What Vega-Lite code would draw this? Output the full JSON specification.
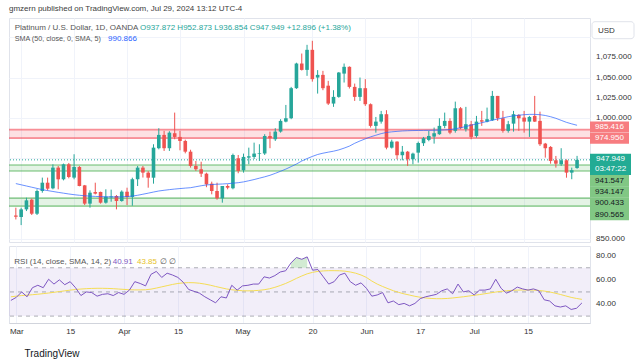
{
  "$schema": "https://vega.github.io/schema/vega-lite/v6.json",
  "background": "#ffffff",
  "padding": {"left": 7, "top": 4, "right": 0, "bottom": 0},
  "title": {"text": "gmzern published on TradingView.com, Jul 29, 2024 13:12 UTC-4", "anchor": "start", "frame": "group", "fontSize": 8, "fontWeight": "normal", "color": "#3b3b3b", "font": "Liberation Sans", "offset": 5},
  "config": {
    "font": "Liberation Sans",
    "view": {"stroke": "#e0e3eb", "strokeWidth": 1},
    "axis": {"labelFont": "Liberation Sans", "labelFontSize": 8, "labelColor": "#333333", "ticks": false, "domain": false, "gridColor": "#f0f3fa", "gridWidth": 1}
  },
  "spacing": 1,
  "datasets": {
    "bars": [
      {"i":0,"o":879,"h":888.6,"l":874,"c":877.4,"sma":918.5,"rsi":43,"ma":46},
      {"i":1,"o":877,"h":888.6,"l":867,"c":886.5,"sma":917,"rsi":45.5,"ma":46.5},
      {"i":2,"o":886.5,"h":901,"l":884.4,"c":897.7,"sma":915.5,"rsi":50,"ma":47},
      {"i":3,"o":898.5,"h":899.8,"l":879.5,"c":881.1,"sma":914,"rsi":46,"ma":47.3},
      {"i":4,"o":881.1,"h":911.4,"l":879.5,"c":909.3,"sma":912.5,"rsi":53.5,"ma":47.7},
      {"i":5,"o":909.3,"h":925.9,"l":907.2,"c":919.6,"sma":911,"rsi":55.5,"ma":48.1},
      {"i":6,"o":919.6,"h":925.9,"l":910,"c":912.2,"sma":909.8,"rsi":53.5,"ma":48.6},
      {"i":7,"o":912.6,"h":942.4,"l":911.4,"c":938.3,"sma":908.7,"rsi":60.5,"ma":49.1},
      {"i":8,"o":938.3,"h":940.4,"l":911.4,"c":923.8,"sma":907.6,"rsi":56.5,"ma":49.7},
      {"i":9,"o":923.8,"h":943.3,"l":922.5,"c":942.4,"sma":906.6,"rsi":60,"ma":50.3},
      {"i":10,"o":942.4,"h":944.1,"l":925,"c":926.7,"sma":905.6,"rsi":56,"ma":50.9},
      {"i":11,"o":925.9,"h":954.9,"l":923.8,"c":939.1,"sma":904.7,"rsi":58.5,"ma":51.5},
      {"i":12,"o":939.1,"h":940.4,"l":915.1,"c":915.5,"sma":904,"rsi":53.5,"ma":52},
      {"i":13,"o":916.3,"h":916.8,"l":891.9,"c":893.6,"sma":903.4,"rsi":47,"ma":52.4},
      {"i":14,"o":893.6,"h":910.1,"l":888.6,"c":907.2,"sma":902.9,"rsi":50,"ma":52.7},
      {"i":15,"o":908,"h":919.6,"l":905,"c":906,"sma":902.6,"rsi":49.5,"ma":52.9},
      {"i":16,"o":908.1,"h":908.5,"l":893.6,"c":894.8,"sma":902.3,"rsi":46.5,"ma":53},
      {"i":17,"o":894.8,"h":911.4,"l":893.6,"c":902.3,"sma":902.1,"rsi":48,"ma":53},
      {"i":18,"o":901.5,"h":911,"l":896,"c":902.5,"sma":902,"rsi":48.5,"ma":52.9},
      {"i":19,"o":903.1,"h":904.3,"l":886.5,"c":896.9,"sma":902,"rsi":47,"ma":52.7},
      {"i":20,"o":896.9,"h":910.1,"l":896,"c":908.5,"sma":902.1,"rsi":49.5,"ma":52.4},
      {"i":21,"o":908.4,"h":913.4,"l":891.9,"c":901.9,"sma":902.4,"rsi":48,"ma":52.1},
      {"i":22,"o":901.9,"h":925.8,"l":891,"c":923.9,"sma":903,"rsi":51.5,"ma":51.8},
      {"i":23,"o":923.9,"h":940.4,"l":915.5,"c":938.3,"sma":904,"rsi":58.5,"ma":51.7},
      {"i":24,"o":938.3,"h":940.4,"l":926,"c":932.1,"sma":905.3,"rsi":57,"ma":51.7},
      {"i":25,"o":932.1,"h":934,"l":913.4,"c":925.8,"sma":906.6,"rsi":55,"ma":51.8},
      {"i":26,"o":925.8,"h":967.3,"l":918.4,"c":963.1,"sma":908,"rsi":64.5,"ma":52.3},
      {"i":27,"o":962.4,"h":987.2,"l":961,"c":978.9,"sma":909.3,"rsi":67,"ma":53.2},
      {"i":28,"o":978.9,"h":983.9,"l":959,"c":962.4,"sma":910.2,"rsi":62,"ma":54.2},
      {"i":29,"o":962.4,"h":983.5,"l":959,"c":981.7,"sma":911,"rsi":65.5,"ma":55.2},
      {"i":30,"o":981,"h":1006.6,"l":973.5,"c":976.4,"sma":911.7,"rsi":64,"ma":56.2},
      {"i":31,"o":976.4,"h":983.9,"l":959.8,"c":971.4,"sma":912.3,"rsi":62,"ma":57},
      {"i":32,"o":971.4,"h":973,"l":956,"c":958.1,"sma":912.9,"rsi":58,"ma":57.5},
      {"i":33,"o":958.1,"h":960.5,"l":938.3,"c":940.4,"sma":913.4,"rsi":52,"ma":57.7},
      {"i":34,"o":940.4,"h":946.5,"l":934.2,"c":936.3,"sma":914.6,"rsi":50.5,"ma":57.6},
      {"i":35,"o":936.3,"h":945.6,"l":926.7,"c":930.8,"sma":915.8,"rsi":49,"ma":57.2},
      {"i":36,"o":930.8,"h":932,"l":914,"c":917.6,"sma":916.8,"rsi":46,"ma":56.5},
      {"i":37,"o":918.4,"h":920.9,"l":905.2,"c":909.3,"sma":917.3,"rsi":43.5,"ma":55.6},
      {"i":38,"o":909.3,"h":919.6,"l":898.5,"c":900.2,"sma":917.7,"rsi":41,"ma":54.5},
      {"i":39,"o":900.2,"h":915.5,"l":894.8,"c":915.5,"sma":918,"rsi":46,"ma":53.5},
      {"i":40,"o":915.5,"h":917.6,"l":911.4,"c":913.4,"sma":918.4,"rsi":45,"ma":52.5},
      {"i":41,"o":912.7,"h":955.7,"l":911.4,"c":954,"sma":919,"rsi":55.5,"ma":51.8},
      {"i":42,"o":949.9,"h":954,"l":931.3,"c":934.2,"sma":919.6,"rsi":51.5,"ma":51.3},
      {"i":43,"o":935,"h":955.7,"l":932.1,"c":951.6,"sma":920.6,"rsi":55,"ma":51},
      {"i":44,"o":950.7,"h":963.1,"l":942.5,"c":952.4,"sma":922,"rsi":55.5,"ma":50.9},
      {"i":45,"o":951.6,"h":969.3,"l":949,"c":955.7,"sma":923.5,"rsi":56.5,"ma":51},
      {"i":46,"o":955.3,"h":967.3,"l":946.6,"c":956.1,"sma":925.2,"rsi":56.5,"ma":51.3},
      {"i":47,"o":955.7,"h":979.8,"l":954,"c":977.6,"sma":926.9,"rsi":62.5,"ma":51.8},
      {"i":48,"o":977.6,"h":983,"l":962.4,"c":974.8,"sma":928.8,"rsi":61.5,"ma":52.6},
      {"i":49,"o":973.5,"h":987.2,"l":971.4,"c":983,"sma":931.2,"rsi":63.5,"ma":53.8},
      {"i":50,"o":983,"h":998.4,"l":981.7,"c":996.3,"sma":933.8,"rsi":66.5,"ma":55.3},
      {"i":51,"o":995.4,"h":1016.1,"l":994.5,"c":999.6,"sma":936.5,"rsi":67.5,"ma":57},
      {"i":52,"o":999.6,"h":1038.5,"l":998.4,"c":1036.9,"sma":939.6,"rsi":74,"ma":59},
      {"i":53,"o":1036.9,"h":1068.5,"l":1036,"c":1067.5,"sma":942.8,"rsi":78.5,"ma":61.2},
      {"i":54,"o":1067.5,"h":1079.9,"l":1058.8,"c":1059.6,"sma":946.5,"rsi":77,"ma":63.2},
      {"i":55,"o":1059.6,"h":1090.7,"l":1052.2,"c":1084.5,"sma":949.5,"rsi":79,"ma":65},
      {"i":56,"o":1084.5,"h":1095.7,"l":1045,"c":1048.1,"sma":952.2,"rsi":68,"ma":66.2},
      {"i":57,"o":1050.1,"h":1059.3,"l":1030.2,"c":1053.4,"sma":954.6,"rsi":68.5,"ma":67},
      {"i":58,"o":1053.4,"h":1058.4,"l":1034.4,"c":1036.9,"sma":956.2,"rsi":62.5,"ma":67.4},
      {"i":59,"o":1040,"h":1046,"l":1016,"c":1017.8,"sma":957.5,"rsi":56.5,"ma":67.6},
      {"i":60,"o":1017.8,"h":1034.4,"l":1013.7,"c":1026.1,"sma":958.7,"rsi":58.5,"ma":67.6},
      {"i":61,"o":1026.1,"h":1057,"l":1025,"c":1056.3,"sma":960.3,"rsi":64,"ma":67.5},
      {"i":62,"o":1055,"h":1067.5,"l":1043.9,"c":1063.4,"sma":962.5,"rsi":65.5,"ma":67.2},
      {"i":63,"o":1063.4,"h":1064,"l":1036.5,"c":1038.5,"sma":965,"rsi":58.5,"ma":66.5},
      {"i":64,"o":1038.5,"h":1042.6,"l":1021.1,"c":1026.1,"sma":968.5,"rsi":55.5,"ma":65.5},
      {"i":65,"o":1026.1,"h":1050.1,"l":1021.1,"c":1036.9,"sma":971.4,"rsi":57.5,"ma":64},
      {"i":66,"o":1036.9,"h":1048.1,"l":1014.9,"c":1017,"sma":974,"rsi":53,"ma":62},
      {"i":67,"o":1017,"h":1018,"l":988,"c":990.1,"sma":976.5,"rsi":46.5,"ma":59},
      {"i":68,"o":990.1,"h":1001.2,"l":981.7,"c":995.4,"sma":978.5,"rsi":47.5,"ma":56.5},
      {"i":69,"o":995.4,"h":1008.7,"l":992.9,"c":1004.6,"sma":980.5,"rsi":49.5,"ma":54.5},
      {"i":70,"o":1004.6,"h":1009.6,"l":961,"c":963.1,"sma":982,"rsi":41,"ma":52.7},
      {"i":71,"o":963.1,"h":973,"l":962,"c":970.6,"sma":982.7,"rsi":42.5,"ma":51},
      {"i":72,"o":970.6,"h":971,"l":948.7,"c":953.7,"sma":983.3,"rsi":39.5,"ma":49.6},
      {"i":73,"o":953.7,"h":965.2,"l":947.4,"c":958.1,"sma":983.8,"rsi":40.5,"ma":48.4},
      {"i":74,"o":958.1,"h":959,"l":940.4,"c":948.7,"sma":984.1,"rsi":38.5,"ma":47.4},
      {"i":75,"o":948.7,"h":956.9,"l":942.5,"c":955.7,"sma":984.3,"rsi":40.5,"ma":46.4},
      {"i":76,"o":956.9,"h":970.6,"l":944.5,"c":968.9,"sma":984.4,"rsi":44.5,"ma":45.6},
      {"i":77,"o":968.6,"h":976.4,"l":965.2,"c":974.8,"sma":984.5,"rsi":46,"ma":45},
      {"i":78,"o":972.7,"h":983.9,"l":971,"c":977.6,"sma":984.6,"rsi":47,"ma":44.6},
      {"i":79,"o":976.8,"h":988,"l":968.1,"c":981,"sma":984.7,"rsi":48,"ma":44.4},
      {"i":80,"o":979.8,"h":999.6,"l":979,"c":990.1,"sma":984.9,"rsi":51,"ma":44.4},
      {"i":81,"o":990.1,"h":1006.6,"l":987.2,"c":996.3,"sma":985.1,"rsi":52.5,"ma":44.6},
      {"i":82,"o":996.3,"h":999.6,"l":979.8,"c":981.7,"sma":985.5,"rsi":48.5,"ma":45},
      {"i":83,"o":983.9,"h":1020.2,"l":981.7,"c":1012,"sma":986.5,"rsi":56.5,"ma":45.5},
      {"i":84,"o":1012,"h":1013.5,"l":986,"c":987.2,"sma":987.8,"rsi":50,"ma":46},
      {"i":85,"o":986,"h":1013.7,"l":983,"c":992.2,"sma":989.3,"rsi":51,"ma":46.6},
      {"i":86,"o":992.2,"h":996.3,"l":973.5,"c":976.4,"sma":991,"rsi":47.5,"ma":47.2},
      {"i":87,"o":977.6,"h":1002.5,"l":975.5,"c":995.4,"sma":992.5,"rsi":51.5,"ma":47.8},
      {"i":88,"o":997.1,"h":1008.7,"l":990.1,"c":995.4,"sma":994,"rsi":51.5,"ma":48.5},
      {"i":89,"o":995.4,"h":1012.8,"l":994.5,"c":998.4,"sma":995.6,"rsi":52.5,"ma":49.2},
      {"i":90,"o":997.1,"h":1033.5,"l":996.3,"c":1027.3,"sma":997.2,"rsi":60.5,"ma":49.9},
      {"i":91,"o":1027.3,"h":1027.3,"l":996.3,"c":999.6,"sma":998.6,"rsi":53,"ma":50.5},
      {"i":92,"o":999.6,"h":1008.7,"l":981.7,"c":983.9,"sma":1000,"rsi":49,"ma":51},
      {"i":93,"o":983.9,"h":996.3,"l":981.7,"c":992.2,"sma":1001.5,"rsi":51,"ma":51.3},
      {"i":94,"o":992.9,"h":1008.7,"l":983,"c":1004.6,"sma":1002.6,"rsi":54,"ma":51.5},
      {"i":95,"o":1003.7,"h":1004.6,"l":983.9,"c":999.6,"sma":1003.4,"rsi":52.5,"ma":51.6},
      {"i":96,"o":1000.4,"h":1008.7,"l":981.7,"c":995.4,"sma":1004,"rsi":51.5,"ma":51.6},
      {"i":97,"o":995.4,"h":1002.5,"l":976.4,"c":1001.2,"sma":1004.4,"rsi":52.5,"ma":51.5},
      {"i":98,"o":1002.5,"h":1027.3,"l":995,"c":995.4,"sma":1004.4,"rsi":51,"ma":51.2},
      {"i":99,"o":996.3,"h":1007.8,"l":965.2,"c":967.3,"sma":1004,"rsi":43.5,"ma":50.7},
      {"i":100,"o":968.1,"h":969,"l":950.7,"c":962.4,"sma":1003,"rsi":42.5,"ma":50},
      {"i":101,"o":964,"h":965,"l":943.2,"c":946.6,"sma":1001.5,"rsi":38.5,"ma":49},
      {"i":102,"o":947.4,"h":952.8,"l":938.3,"c":943.2,"sma":999.5,"rsi":37.5,"ma":47.9},
      {"i":103,"o":942.5,"h":962.4,"l":940.4,"c":947.4,"sma":997,"rsi":38.5,"ma":46.7},
      {"i":104,"o":947.4,"h":948.5,"l":925.8,"c":932.1,"sma":994.5,"rsi":35.5,"ma":45.5},
      {"i":105,"o":932.1,"h":938.3,"l":923.9,"c":935.05,"sma":992.6,"rsi":36.5,"ma":44.6},
      {"i":106,"o":937.872,"h":952.873,"l":936.854,"c":947.949,"sma":990.866,"rsi":40.91,"ma":43.85}
    ],
    "zones": [
      {"lo": 974.95, "hi": 985.416, "kind": "res"},
      {"lo": 934.147, "hi": 941.547, "kind": "sup"},
      {"lo": 890.565, "hi": 900.433, "kind": "sup"}
    ],
    "tags": [
      {"label": "985.416", "price": 985.416, "kind": "res"},
      {"label": "974.950", "price": 974.95, "kind": "res"},
      {"label": "941.547", "price": 941.547, "kind": "sup"},
      {"label": "934.147", "price": 934.147, "kind": "sup"},
      {"label": "900.433", "price": 900.433, "kind": "sup"},
      {"label": "890.565", "price": 890.565, "kind": "sup"}
    ],
    "last": [
      {"label": "947.949", "price": 947.949, "timer": "03:47:22"}
    ],
    "priceTicks": [{"v": 850}, {"v": 1000}, {"v": 1025}, {"v": 1050}, {"v": 1075}],
    "rsiTicks": [{"v": 40}, {"v": 60}, {"v": 80}]
  },
  "vconcat": [
    {
      "width": 581,
      "height": 224,
      "layer": [
        {
          "data": {"name": "zones"},
          "mark": {"type": "rect", "opacity": 0.15},
          "encoding": {
            "y": {"field": "lo", "type": "quantitative", "scale": {"domain": [846, 1124], "nice": false, "zero": false},
              "axis": {"orient": "right", "title": null, "values": [850, 875, 900, 925, 950, 975, 1000, 1025, 1050, 1075, 1100], "labels": false, "grid": true}},
            "y2": {"field": "hi"},
            "color": {"condition": {"test": "datum.kind == 'res'", "value": "#f23645"}, "value": "#4caf50"}
          }
        },
        {
          "data": {"name": "zones"},
          "mark": {"type": "rule", "strokeWidth": 1.6, "opacity": 0.55},
          "encoding": {
            "y": {"field": "lo", "type": "quantitative"},
            "color": {"condition": {"test": "datum.kind == 'res'", "value": "#f23645"}, "value": "#4caf50"}
          }
        },
        {
          "data": {"name": "zones"},
          "mark": {"type": "rule", "strokeWidth": 1.6, "opacity": 0.55},
          "encoding": {
            "y": {"field": "hi", "type": "quantitative"},
            "color": {"condition": {"test": "datum.kind == 'res'", "value": "#f23645"}, "value": "#4caf50"}
          }
        },
        {
          "data": {"name": "last"},
          "mark": {"type": "rule", "strokeWidth": 1, "strokeDash": [1, 2], "color": "#26a69a"},
          "encoding": {"y": {"field": "price", "type": "quantitative"}}
        },
        {
          "data": {"name": "bars"},
          "mark": {"type": "rule", "strokeWidth": 1},
          "encoding": {
            "x": {"field": "i", "type": "quantitative", "scale": {"domain": [-0.35, 107.5], "nice": false, "zero": false},
              "axis": {"title": null, "labels": false, "grid": true, "values": [1, 11, 21, 31, 43, 56, 66, 76, 86, 96]}},
            "y": {"field": "l", "type": "quantitative"},
            "y2": {"field": "h"},
            "color": {"condition": {"test": "datum.c >= datum.o", "value": "#26a69a"}, "value": "#ef5350"}
          }
        },
        {
          "data": {"name": "bars"},
          "mark": {"type": "bar", "width": 3.6, "minBandSize": 1},
          "encoding": {
            "x": {"field": "i", "type": "quantitative"},
            "y": {"field": "o", "type": "quantitative"},
            "y2": {"field": "c"},
            "color": {"condition": {"test": "datum.c >= datum.o", "value": "#26a69a"}, "value": "#ef5350"}
          }
        },
        {
          "data": {"name": "bars"},
          "mark": {"type": "line", "strokeWidth": 1, "color": "#2962ff", "opacity": 0.7},
          "encoding": {
            "x": {"field": "i", "type": "quantitative"},
            "y": {"field": "sma", "type": "quantitative"}
          }
        },
        {
          "data": {"name": "priceTicks"},
          "mark": {"type": "text", "align": "left", "baseline": "middle", "fontSize": 8, "color": "#333333", "xOffset": 6},
          "encoding": {
            "y": {"field": "v", "type": "quantitative"},
            "x": {"value": "width"},
            "text": {"field": "v", "type": "quantitative", "format": ",.3f"}
          }
        },
        {
          "data": {"values": [{}]},
          "mark": {"type": "text", "align": "left", "baseline": "middle", "fontSize": 8, "color": "#555555", "x": 5.7, "y": 10},
          "encoding": {"text": {"value": "Platinum / U.S. Dollar, 1D, OANDA"}}
        },
        {
          "data": {"values": [{}]},
          "mark": {"type": "text", "align": "left", "baseline": "middle", "fontSize": 8, "color": "#26a69a", "x": 131, "y": 10},
          "encoding": {"text": {"value": "O937.872  H952.873  L936.854  C947.949  +12.896 (+1.38%)"}}
        },
        {
          "data": {"values": [{}]},
          "mark": {"type": "text", "align": "left", "baseline": "middle", "fontSize": 7.2, "color": "#555555", "x": 5.7, "y": 21},
          "encoding": {"text": {"value": "SMA (50, close, 0, SMA, 5)"}}
        },
        {
          "data": {"values": [{}]},
          "mark": {"type": "text", "align": "left", "baseline": "middle", "fontSize": 8, "color": "#2962ff", "x": 99, "y": 21},
          "encoding": {"text": {"value": "990.866"}}
        },
        {
          "data": {"values": [{}]},
          "mark": {"type": "rect", "fill": "#ffffff", "stroke": "#e0e3eb", "cornerRadius": 3, "x": 583, "x2": 625, "y": 3.7, "y2": 20.7},
          "encoding": {}
        },
        {
          "data": {"values": [{}]},
          "mark": {"type": "text", "align": "left", "baseline": "middle", "fontSize": 8, "color": "#333333", "x": 589, "y": 12.5},
          "encoding": {"text": {"value": "USD"}}
        },
        {
          "data": {"name": "tags"},
          "transform": [{"filter": "datum.label == '985.416'"}],
          "encoding": {"y": {"field": "price", "type": "quantitative"}, "x": {"value": "width"}},
          "layer": [
            {"mark": {"type": "tick", "orient": "vertical", "thickness": 39, "size": 11, "color": "#f77c80", "opacity": 1, "xOffset": 19.5, "yOffset": -2.7}},
            {"mark": {"type": "text", "align": "center", "baseline": "middle", "fontSize": 8, "color": "#ffffff", "xOffset": 19.5, "yOffset": -2.7}, "encoding": {"text": {"field": "label"}}}
          ]
        },
        {
          "data": {"name": "tags"},
          "transform": [{"filter": "datum.label == '974.950'"}],
          "encoding": {"y": {"field": "price", "type": "quantitative"}, "x": {"value": "width"}},
          "layer": [
            {"mark": {"type": "tick", "orient": "vertical", "thickness": 39, "size": 11, "color": "#f77c80", "opacity": 1, "xOffset": 19.5, "yOffset": 0.2}},
            {"mark": {"type": "text", "align": "center", "baseline": "middle", "fontSize": 8, "color": "#ffffff", "xOffset": 19.5, "yOffset": 0.2}, "encoding": {"text": {"field": "label"}}}
          ]
        },
        {
          "data": {"name": "last"},
          "encoding": {"y": {"field": "price", "type": "quantitative"}, "x": {"value": "width"}},
          "layer": [
            {"mark": {"type": "tick", "orient": "vertical", "thickness": 41, "size": 21.3, "color": "#22ab94", "opacity": 1, "xOffset": 20.5, "yOffset": 4.5}},
            {"mark": {"type": "text", "align": "center", "baseline": "middle", "fontSize": 8, "color": "#ffffff", "xOffset": 20.5, "yOffset": -0.6}, "encoding": {"text": {"field": "label"}}},
            {"mark": {"type": "text", "align": "center", "baseline": "middle", "fontSize": 8, "color": "#ffffff", "xOffset": 20.5, "yOffset": 9.4}, "encoding": {"text": {"field": "timer"}}}
          ]
        },
        {
          "data": {"name": "tags"},
          "transform": [{"filter": "datum.label == '941.547'"}],
          "encoding": {"y": {"field": "price", "type": "quantitative"}, "x": {"value": "width"}},
          "layer": [
            {"mark": {"type": "tick", "orient": "vertical", "thickness": 39, "size": 11.4, "color": "#81c784", "opacity": 1, "xOffset": 19.5, "yOffset": 15.7}},
            {"mark": {"type": "text", "align": "center", "baseline": "middle", "fontSize": 8, "color": "#131722", "xOffset": 19.5, "yOffset": 15.7}, "encoding": {"text": {"field": "label"}}}
          ]
        },
        {
          "data": {"name": "tags"},
          "transform": [{"filter": "datum.label == '934.147'"}],
          "encoding": {"y": {"field": "price", "type": "quantitative"}, "x": {"value": "width"}},
          "layer": [
            {"mark": {"type": "tick", "orient": "vertical", "thickness": 39, "size": 11.4, "color": "#81c784", "opacity": 1, "xOffset": 19.5, "yOffset": 21}},
            {"mark": {"type": "text", "align": "center", "baseline": "middle", "fontSize": 8, "color": "#131722", "xOffset": 19.5, "yOffset": 21}, "encoding": {"text": {"field": "label"}}}
          ]
        },
        {
          "data": {"name": "tags"},
          "transform": [{"filter": "datum.label == '900.433'"}],
          "encoding": {"y": {"field": "price", "type": "quantitative"}, "x": {"value": "width"}},
          "layer": [
            {"mark": {"type": "tick", "orient": "vertical", "thickness": 39, "size": 11.4, "color": "#81c784", "opacity": 1, "xOffset": 19.5, "yOffset": 5.1}},
            {"mark": {"type": "text", "align": "center", "baseline": "middle", "fontSize": 8, "color": "#131722", "xOffset": 19.5, "yOffset": 5.1}, "encoding": {"text": {"field": "label"}}}
          ]
        },
        {
          "data": {"name": "tags"},
          "transform": [{"filter": "datum.label == '890.565'"}],
          "encoding": {"y": {"field": "price", "type": "quantitative"}, "x": {"value": "width"}},
          "layer": [
            {"mark": {"type": "tick", "orient": "vertical", "thickness": 39, "size": 11.4, "color": "#81c784", "opacity": 1, "xOffset": 19.5, "yOffset": 8.5}},
            {"mark": {"type": "text", "align": "center", "baseline": "middle", "fontSize": 8, "color": "#131722", "xOffset": 19.5, "yOffset": 8.5}, "encoding": {"text": {"field": "label"}}}
          ]
        }
      ]
    },
    {
      "width": 581,
      "height": 77,
      "layer": [
        {
          "data": {"values": [{}]},
          "mark": {"type": "rect", "color": "#7e57c2", "opacity": 0.1},
          "encoding": {
            "y": {"datum": 30, "type": "quantitative", "scale": {"domain": [24.3, 88], "nice": false, "zero": false}, "axis": null},
            "y2": {"datum": 70}
          }
        },
        {
          "data": {"values": [{"lvl": 30}, {"lvl": 50}, {"lvl": 70}]},
          "mark": {"type": "rule", "color": "#787b86", "strokeDash": [4, 4], "strokeWidth": 1, "opacity": 0.6},
          "encoding": {"y": {"field": "lvl", "type": "quantitative"}}
        },
        {
          "data": {"name": "bars"},
          "transform": [{"filter": "datum.rsi >= 70"}],
          "mark": {"type": "area", "color": "#4caf50", "opacity": 0.25},
          "encoding": {
            "x": {"field": "i", "type": "quantitative"},
            "y": {"field": "rsi", "type": "quantitative"},
            "y2": {"datum": 70}
          }
        },
        {
          "data": {"name": "bars"},
          "mark": {"type": "line", "strokeWidth": 1, "color": "#f5dd55"},
          "encoding": {
            "x": {"field": "i", "type": "quantitative", "scale": {"domain": [-0.35, 107.5], "nice": false, "zero": false},
              "axis": {"title": "TradingView", "grid": true, "values": [1, 11, 21, 31, 43, 56, 66, 76, 86, 96],
                "labelExpr": "['Mar','15','Apr','15','May','20','Jun','17','Jul','15'][indexof([1,11,21,31,43,56,66,76,86,96], datum.value)]",
                "labelPadding": 4, "labelFlush": false, "labelOverlap": false, "domain": true, "domainColor": "#d1d4dc",
                "titleAnchor": "start", "titleAlign": "left", "titleX": 15, "titleY": 30, "titleBaseline": "middle", "titleFontSize": 10, "titleFontWeight": "normal", "titleColor": "#131722"}},
            "y": {"field": "ma", "type": "quantitative"}
          }
        },
        {
          "data": {"name": "bars"},
          "mark": {"type": "line", "strokeWidth": 1, "color": "#7e57c2"},
          "encoding": {
            "x": {"field": "i", "type": "quantitative"},
            "y": {"field": "rsi", "type": "quantitative"}
          }
        },
        {
          "data": {"name": "rsiTicks"},
          "mark": {"type": "text", "align": "left", "baseline": "middle", "fontSize": 8, "color": "#333333", "xOffset": 6},
          "encoding": {
            "y": {"field": "v", "type": "quantitative"},
            "x": {"value": "width"},
            "text": {"field": "v", "type": "quantitative", "format": ".2f"}
          }
        },
        {
          "data": {"values": [{}]},
          "mark": {"type": "text", "align": "left", "baseline": "middle", "fontSize": 8, "color": "#555555", "x": 5.3, "y": 16.4},
          "encoding": {"text": {"value": "RSI (14, close, SMA, 14, 2)"}}
        },
        {
          "data": {"values": [{}]},
          "mark": {"type": "text", "align": "left", "baseline": "middle", "fontSize": 8, "color": "#7e57c2", "x": 103.7, "y": 16.4},
          "encoding": {"text": {"value": "40.91"}}
        },
        {
          "data": {"values": [{}]},
          "mark": {"type": "text", "align": "left", "baseline": "middle", "fontSize": 8, "color": "#e6c229", "x": 128, "y": 16.4},
          "encoding": {"text": {"value": "43.85"}}
        },
        {
          "data": {"values": [{}]},
          "mark": {"type": "text", "align": "left", "baseline": "middle", "fontSize": 8, "color": "#555555", "x": 151, "y": 16.4},
          "encoding": {"text": {"value": "∅  ∅"}}
        }
      ]
    }
  ]
}
